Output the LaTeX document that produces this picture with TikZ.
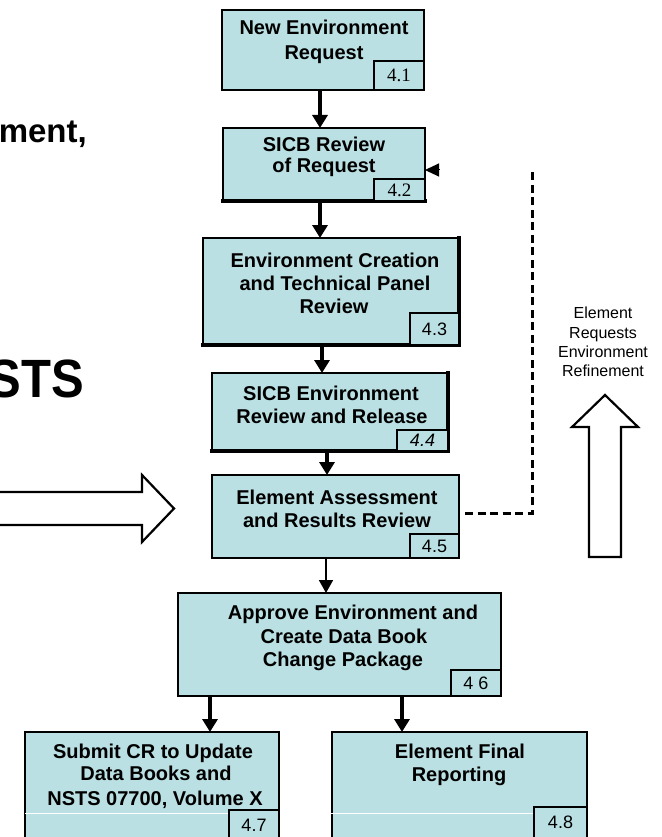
\documentclass[tikz,border=0pt]{standalone}
\usepackage{fontspec}
\setmainfont{Liberation Sans}
\newfontfamily\numserif{Liberation Serif}
\usetikzlibrary{arrows.meta}
\definecolor{boxfill}{RGB}{186,224,227}
\begin{document}
\begin{tikzpicture}[x=1pt,y=-1pt,
  box/.style={draw, line width=1.5pt, fill=boxfill, rectangle, inner sep=0pt, outer sep=0pt},
  numbox/.style={draw, line width=1.3pt, fill=boxfill, rectangle, inner sep=0pt, outer sep=0pt, anchor=south east, font=\fontsize{18}{18}\selectfont},
  serifnum/.style={font=\numserif\fontsize{19}{19}\selectfont},
  txt/.style={anchor=base, inner sep=0pt, font=\bfseries\fontsize{20}{24}\selectfont},
  sidetxt/.style={anchor=base, inner sep=0pt, font=\fontsize{16}{19}\selectfont},
  flowarrow/.style={line width=3.3pt, -{Triangle[length=13pt,width=15pt]}},
  thinarrow/.style={line width=1.8pt, -{Triangle[length=13pt,width=14pt]}},
  shadowline/.style={line width=4pt, line join=miter, line cap=rect},
  dashline/.style={line width=3pt, dash pattern=on 8pt off 4.5pt},
  hollow/.style={draw, line width=2.2pt, fill=white, line join=miter}
]
\useasboundingbox (0,0) rectangle (661,837);
\clip (0,0) rectangle (661,837);

% left texts (cut off at the left edge, as in the reference)
\node[anchor=base east, inner sep=0pt, font=\bfseries\fontsize{33}{33}\selectfont] (lt1) at (87,143) {ment,};
\node[anchor=base east, inner sep=0pt, font=\bfseries\fontsize{49}{49}\selectfont] (lt2) at (84,397) {\scalebox{1}[1.1]{STS}};

% hollow arrows
\draw[hollow] (-10,492) -- (142,492) -- (142,475) -- (174,508.5) -- (142,542) -- (142,525) -- (-10,525) -- cycle;
\draw[hollow] (589,557) -- (589,427) -- (572,427) -- (605,395) -- (638,427) -- (621,427) -- (621,557) -- cycle;

% side text
\node[sidetxt] (s1) at (603,318) {Element};
\node[sidetxt] (s2) at (603,338) {Requests};
\node[sidetxt] (s3) at (603,357) {Environment};
\node[sidetxt] (s4) at (603,376) {Refinement};

% boxes
\node[box, minimum width=202pt, minimum height=80pt] (n41) at (323,50) {};
\node[box, minimum width=202pt, minimum height=73pt] (n42) at (324,164.5) {};
\node[box, minimum width=256pt, minimum height=107pt] (n43) at (331,291.5) {};
\node[box, minimum width=236pt, minimum height=78pt] (n44) at (330,412) {};
\node[box, minimum width=247pt, minimum height=83pt] (n45) at (335.5,516.5) {};
\node[box, minimum width=323pt, minimum height=103pt] (n46) at (339.5,644.5) {};
\node[box, minimum width=254pt, minimum height=109pt] (n47) at (152,786.5) {};
\node[box, minimum width=255pt, minimum height=106pt] (n48) at (459.5,785) {};

% shadows / heavy edges
\draw[shadowline] (n42.south west) -- (n42.south east);
\draw[shadowline] (n43.north east) -- (n43.south east) -- (n43.south west);
\draw[shadowline] (n44.north east) -- (n44.south east) -- (n44.south west);
\draw[line width=2.6pt] (n45.north east) -- (n45.south east);
\draw[line width=2.8pt] (n47.north east) -- (n47.south east);
\draw[line width=2.8pt] (n48.north east) -- (n48.south east);
\draw[white, line width=0.8pt] (n47.west |- 0,813) -- (n48.east |- 0,813);

% number boxes
\node[numbox, serifnum, minimum width=50pt, minimum height=29pt] (n41n) at (n41.south east) {4.1};
\node[numbox, serifnum, minimum width=51pt, minimum height=22pt] (n42n) at (n42.south east) {4.2};
\node[numbox, minimum width=49pt, minimum height=32pt] (n43n) at (n43.south east) {4.3};
\node[numbox, minimum width=51pt, minimum height=21pt, font=\itshape\fontsize{18}{18}\selectfont] (n44n) at (n44.south east) {4.4};
\node[numbox, minimum width=49pt, minimum height=24pt] (n45n) at (n45.south east) {4.5};
\node[numbox, minimum width=50pt, minimum height=26pt] (n46n) at (n46.south east) {4 6};
\node[numbox, minimum width=50pt, minimum height=31pt] (n47n) at (n47.south east) {4.7};
\node[numbox, minimum width=53pt, minimum height=31pt] (n48n) at (n48.south east) {4.8};

% box texts
\node[txt] (t41a) at (324,35) {New Environment};
\node[txt] (t41b) at (324,60) {Request};
\node[txt] (t42a) at (324,152) {SICB Review};
\node[txt] (t42b) at (324,173) {of Request};
\node[txt] (t43a) at (335,267) {Environment Creation};
\node[txt] (t43b) at (335,290) {and Technical Panel};
\node[txt] (t43c) at (334,313) {Review};
\node[txt] (t44a) at (331,400) {SICB Environment};
\node[txt] (t44b) at (332,423) {Review and Release};
\node[txt] (t45a) at (337,504) {Element Assessment};
\node[txt] (t45b) at (337,527) {and Results Review};
\node[txt] (t46a) at (353,619) {Approve Environment and};
\node[txt] (t46b) at (344,643) {Create Data Book};
\node[txt] (t46c) at (343,666) {Change Package};
\node[txt] (t47a) at (153,758) {Submit CR to Update};
\node[txt] (t47b) at (156,780) {Data Books and};
\node[txt] (t47c) at (155,805) {NSTS 07700, Volume X};
\node[txt] (t48a) at (460,758) {Element Final};
\node[txt] (t48b) at (459,781) {Reporting};

% connectors
\draw[flowarrow] ([xshift=-3pt]n41.south) -- ([xshift=-4pt]n42.north);
\draw[flowarrow] ([xshift=-4pt]n42.south) -- ([xshift=-11pt]n43.north);
\draw[flowarrow] ([xshift=-9pt]n43.south) -- ([xshift=-8pt]n44.north);
\draw[flowarrow] ([xshift=-3pt]n44.south) -- ([xshift=-8.5pt]n45.north);
\draw[thinarrow] ([xshift=-9.5pt]n45.south) -- ([xshift=-13.5pt]n46.north);
\draw[flowarrow] ([xshift=-129.5pt]n46.south) -- ([xshift=58pt]n47.north);
\draw[flowarrow] ([xshift=62.5pt]n46.south) -- ([xshift=-57.5pt]n48.north);

% dashed feedback
\coordinate (dcorner) at (532,513);
\coordinate (dtop) at (532,170);
\coordinate (atail) at (440,170);
\draw[dashline] ([xshift=6pt]n45.east |- dcorner) -- (dcorner) -- (dtop);
\draw[line width=1pt, -{Triangle[length=14pt,width=13pt]}] (atail) -- (n42.east |- atail);
\end{tikzpicture}
\end{document}
